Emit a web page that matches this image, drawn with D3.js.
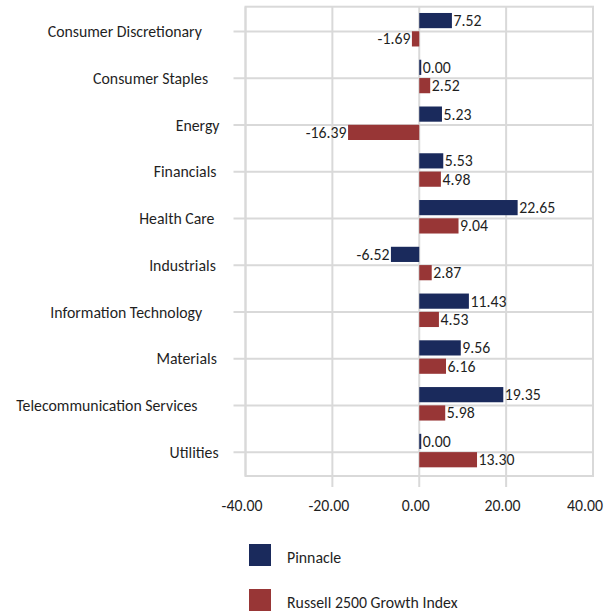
<!DOCTYPE html>
<html>
<head>
<meta charset="utf-8">
<script src="https://cdn.jsdelivr.net/npm/d3@7"></script>
<style>
  html, body { margin: 0; padding: 0; background: #ffffff; }
  svg { display: block; }
  text { font-family: Calibri, Carlito, Lato, "Open Sans", sans-serif; fill: #1f1f1f; }
</style>
</head>
<body>
<svg id="chart" width="606" height="613"></svg>
<script>
const categories = [
  "Consumer Discretionary",
  "Consumer Staples",
  "Energy",
  "Financials",
  "Health Care",
  "Industrials",
  "Information Technology",
  "Materials",
  "Telecommunication Services",
  "Utilities"
];
const seriesNames = ["Pinnacle", "Russell 2500 Growth Index"];
const pinnacle = [7.52, 0.00, 5.23, 5.53, 22.65, -6.52, 11.43, 9.56, 19.35, 0.00];
const russell  = [-1.69, 2.52, -16.39, 4.98, 9.04, 2.87, 4.53, 6.16, 5.98, 13.30];
const xTicks = [-40, -20, 0, 20, 40];
const colors = ["#1a2a5c", "#983636"];

const W = 606, H = 613;
const FONT = 15.8;
const svg = d3.select("#chart");
const fmt = d3.formatLocale({ decimal: ".", thousands: ",", grouping: [3], currency: ["", ""], minus: "-" }).format(".2f");

const plot = { left: 245.5, right: 593, top: 6.7, bottom: 476 };

const x = d3.scaleLinear().domain([-40, 40]).range([plot.left, plot.right]);
const y = d3.scaleBand().domain(categories).range([6.6, 474.2]);
const inner = d3.scaleBand().domain(seriesNames).range([-17, 16.5]).paddingInner(0.17);
const center = c => y(c) + y.bandwidth() / 2;
const lineY = c => center(c) + 1.5;

const grid = "#d9d9d9";

// vertical gridlines + bottom tick marks
svg.append("g").selectAll("line").data(xTicks).join("line")
  .attr("x1", d => x(d)).attr("x2", d => x(d))
  .attr("y1", plot.top).attr("y2", d => (d === -40 || d === 40) ? plot.bottom : plot.bottom + 11)
  .attr("stroke", grid).attr("stroke-width", 2);

// horizontal category lines + left ticks
svg.append("g").selectAll("line").data(categories).join("line")
  .attr("x1", plot.left - 12).attr("x2", plot.right)
  .attr("y1", d => lineY(d)).attr("y2", d => lineY(d))
  .attr("stroke", grid).attr("stroke-width", 2);

// plot border
svg.append("rect")
  .attr("x", plot.left).attr("y", plot.top)
  .attr("width", plot.right - plot.left).attr("height", plot.bottom - plot.top)
  .attr("fill", "none").attr("stroke", grid).attr("stroke-width", 2);

// bars
const series = [pinnacle, russell];
series.forEach((vals, si) => {
  const data = categories.map((c, i) => ({ c, v: vals[i] }));
  const g = svg.append("g");
  g.selectAll("rect").data(data).join("rect")
    .attr("x", d => d.v >= 0 ? x(0) : x(d.v))
    .attr("y", d => center(d.c) + inner(seriesNames[si]))
    .attr("width", d => Math.max(Math.abs(x(d.v) - x(0)), 2))
    .attr("height", inner.bandwidth())
    .attr("fill", colors[si]);
  g.selectAll("text").data(data).join("text")
    .attr("x", d => d.v >= 0 ? x(0) + Math.max(x(d.v) - x(0), 2) + 1.5 : x(d.v) - 1.5)
    .attr("y", d => center(d.c) + inner(seriesNames[si]) + inner.bandwidth() / 2)
    .attr("dy", "0.35em")
    .attr("text-anchor", d => d.v >= 0 ? "start" : "end")
    .attr("font-size", FONT)
    .text(d => fmt(d.v));
});

// category labels
const catLabels = svg.append("g").selectAll("text").data(categories).join("text")
  .attr("y", d => lineY(d))
  .attr("dy", "0.35em")
  .attr("text-anchor", "end")
  .attr("font-size", FONT)
  .text(d => d);
catLabels.attr("x", function () {
  const w = this.getComputedTextLength();
  return 226.5 - 0.16 * w;
});

// x axis labels
const xl = svg.append("g").selectAll("text").data(xTicks).join("text")
  .attr("y", 505)
  .attr("dy", "0.35em")
  .attr("text-anchor", "middle")
  .attr("font-size", FONT)
  .text(d => fmt(d));
xl.attr("x", function (d) {
  const w = this.getComputedTextLength();
  return Math.min(x(d) - 3.5, W - 3 - w / 2);
});

// legend
const leg = svg.append("g").selectAll("g").data(seriesNames).join("g")
  .attr("transform", (d, i) => `translate(249,${544 + i * 45})`);
leg.append("rect").attr("width", 22).attr("height", 22).attr("fill", (d, i) => colors[i]);
leg.append("text").attr("x", 38).attr("y", 13).attr("dy", "0.35em")
  .attr("font-size", FONT).text(d => d);
</script>
</body>
</html>
